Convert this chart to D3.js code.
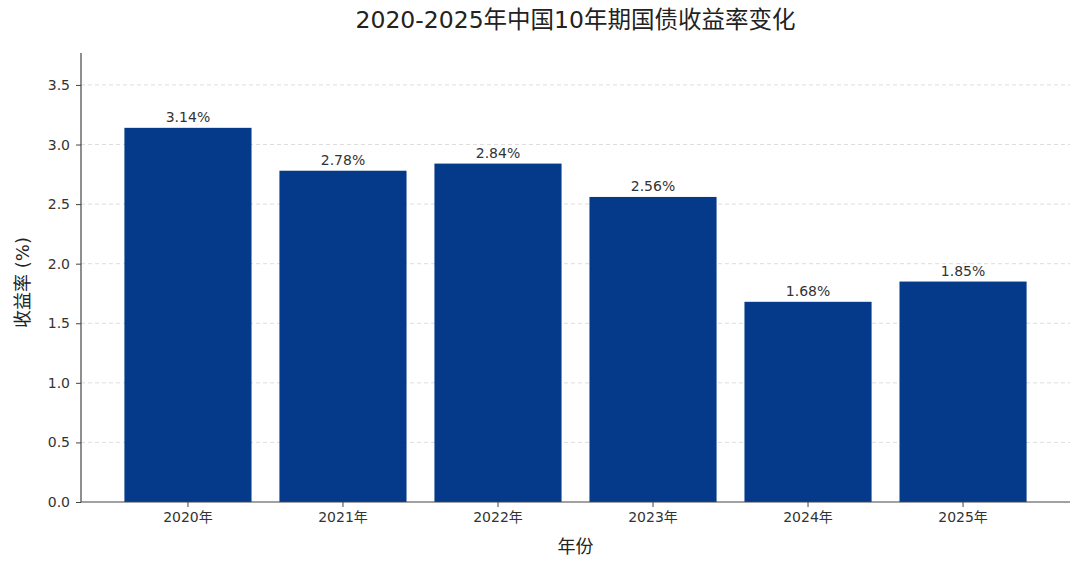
<!DOCTYPE html>
<html><head><meta charset="utf-8">
<script src="https://cdn.jsdelivr.net/npm/d3@7"></script>
<style>body{margin:0;background:#fff}</style>
</head><body>
<svg id="c" width="1080" height="564"></svg>
<script>
const years = ["2020年","2021年","2022年","2023年","2024年","2025年"];
const yields = [3.14, 2.78, 2.84, 2.56, 1.68, 1.85];
const yTicks = [0.0,0.5,1.0,1.5,2.0,2.5,3.0,3.5];
const titleText = "2020-2025年中国10年期国债收益率变化";
const xLabel = "年份";
const yLabel = "收益率 (%)";

const svg = d3.select("#c");
const pL = 81, pR = 1070, pT = 53, pB = 502;
const font = "'DejaVu Sans','Noto Sans CJK SC',sans-serif";
const x = d3.scaleBand().domain(years).range([pL,pR]).paddingInner(0.18).paddingOuter(0.28);
const y = d3.scaleLinear().domain([0, d3.max(yields)*1.2]).range([pB, pT]);

// grid
svg.append("g").selectAll("line").data(yTicks.filter(d=>d>0)).join("line")
  .attr("x1",pL).attr("x2",pR).attr("y1",d=>y(d)).attr("y2",d=>y(d))
  .attr("stroke","#ddd").attr("stroke-width",1).attr("stroke-dasharray","4,3");

// bars
svg.append("g").selectAll("rect").data(yields).join("rect")
  .attr("x",(d,i)=>x(years[i])).attr("width",x.bandwidth())
  .attr("y",d=>y(d)).attr("height",d=>pB-y(d)).attr("fill","#053a8b");

// value labels
svg.append("g").selectAll("text").data(yields).join("text")
  .attr("x",(d,i)=>x(years[i])+x.bandwidth()/2).attr("y",d=>y(d)-6)
  .attr("text-anchor","middle").attr("font-family",font).attr("font-size",14)
  .attr("fill","#333").text(d=>d.toFixed(2)+"%");

// axes
const ya = svg.append("g").attr("transform",`translate(${pL},0)`)
  .call(d3.axisLeft(y).tickValues(yTicks).tickFormat(d3.format(".1f")).tickSizeOuter(0).tickSize(5).tickPadding(6));
const xa = svg.append("g").attr("transform",`translate(0,${pB})`)
  .call(d3.axisBottom(x).tickSizeOuter(0).tickSize(5).tickPadding(5));
[ya,xa].forEach(a=>{
  a.selectAll("text").attr("font-family",font).attr("font-size",14).attr("fill","#333");
  a.selectAll("line").attr("stroke","#444");
  a.select(".domain").attr("stroke","#444").attr("stroke-width",1.2);
});
xa.select(".domain").attr("d",`M${pL},0H${pR}`);
ya.select(".domain").attr("d",`M0,${pB}V${pT}`);

// titles
svg.append("text").attr("x",(pL+pR)/2).attr("y",28).attr("text-anchor","middle")
  .attr("font-family",font).attr("font-size",23.5).attr("fill","#222").text(titleText);
svg.append("text").attr("x",(pL+pR)/2).attr("y",553).attr("text-anchor","middle")
  .attr("font-family",font).attr("font-size",18).attr("fill","#222").text(xLabel);
svg.append("text").attr("transform",`translate(29,${(pT+pB)/2+5}) rotate(-90)`).attr("text-anchor","middle")
  .attr("font-family",font).attr("font-size",18).attr("fill","#222").text(yLabel);
</script>
</body></html>
